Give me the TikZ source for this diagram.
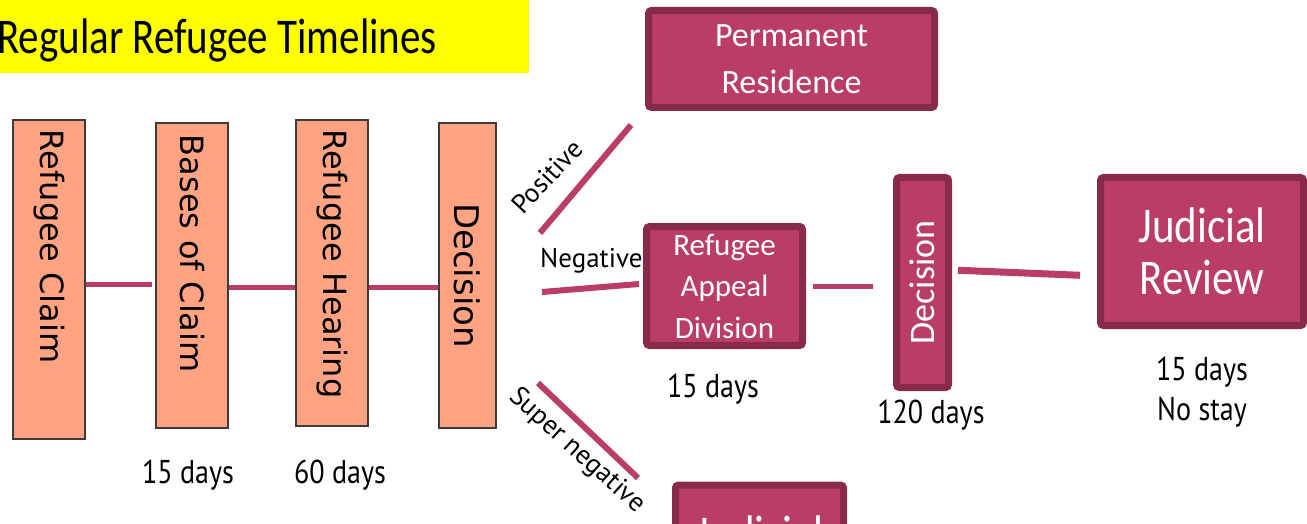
\documentclass[tikz,border=0pt]{standalone}
\usepackage{fontspec}
\setmainfont{Carlito}
\newfontfamily\titlefont[FakeStretch=0.82]{Carlito}
\newfontfamily\boxfont{Carlito}
\newfontfamily\jrfont[FakeStretch=0.86]{Carlito}
\newfontfamily\orfont{DejaVu Sans}
\newfontfamily\labfont[FakeStretch=0.85]{PT Sans}
\newfontfamily\branchfont{PT Sans}
\usetikzlibrary{calc}
\definecolor{mag}{HTML}{BA3C68}
\definecolor{magb}{HTML}{882A4C}
\definecolor{sal}{HTML}{FFA383}
\definecolor{ttl}{HTML}{FFFF00}
\definecolor{orb}{HTML}{3C3C3C}
\begin{document}
\begin{tikzpicture}[x=1pt,y=-1pt,
  orbox/.style={draw=orb, line width=2pt, fill=sal, inner ysep=0pt, rotate=-90,
    font=\orfont\fontsize{32}{36}\selectfont, text=black},
  magbox/.style={draw=magb, fill=mag, line width=7pt, rounded corners=3pt, inner sep=0pt,
    text=white, align=center},
  conn/.style={draw=mag, line width=5pt},
  branchline/.style={draw=mag, line width=6pt},
  lab/.style={font=\labfont\fontsize{33}{40}\selectfont, inner sep=0pt, anchor=base},
  branch/.style={font=\branchfont\fontsize{27}{32}\selectfont, inner sep=0pt, anchor=base west}
]
\clip (0,0) rectangle (1307,524);
\fill[white] (0,0) rectangle (1307,524);

% title
\fill[ttl] (0,0) rectangle (529,73);
\node[anchor=base east, inner sep=0pt, font=\titlefont\fontsize{50}{60}\selectfont] (T) at (437,54) {Regular Refugee Timelines};

% orange boxes (rotated -90: north = right side, south = left side)
\node[orbox, minimum height=72, inner xsep=10pt, text width=299pt, align=left] (RC) at (49,279.5) {Refugee Claim};
\node[orbox, minimum height=72, inner xsep=12pt, text width=281pt, align=left] (BC) at (192,275.5) {Bases of Claim};
\node[orbox, minimum height=72, inner xsep=10pt, text width=286pt, align=left] (RH) at (332,273) {Refugee Hearing};
\node[orbox, minimum height=57, minimum width=305, inner xsep=0pt, font=\orfont\fontsize{34}{38}\selectfont] (OD) at (467.5,275.5) {Decision};

% magenta boxes
\node[magbox, minimum width=286, minimum height=97, font=\boxfont\fontsize{34}{47}\selectfont] (PR) at (791.5,59) {Permanent\\Residence};
\node[magbox, minimum width=156, minimum height=119, font=\boxfont\fontsize{31}{41.5}\selectfont] (RAD) at (724.5,286) {Refugee\\Appeal\\Division};
\node[magbox, rotate=90, minimum width=210, minimum height=52, font=\boxfont\fontsize{36}{40}\selectfont] (D2) at (922.5,282.5) {Decision};
\node[magbox, minimum width=203, minimum height=148, font=\jrfont\fontsize{50}{52}\selectfont] (JR) at (1202,251.5) {Judicial\\Review};
\node[magbox, minimum width=168, minimum height=148, font=\jrfont\fontsize{50}{52}\selectfont] (JB) at (759.5,559) {Judicial\\\phantom{Review}};

% connector levels
\coordinate (yA) at (0,284);
\coordinate (yB) at (0,287);
\coordinate (yC) at (0,286);
\coordinate (yD) at (0,270);
\coordinate (yE) at (0,276);

\draw[conn, shorten >=3pt] (RC.north |- yA) -- (BC.south |- yA);
\draw[conn] (BC.north |- yB) -- (RH.south |- yB);
\draw[conn] (RH.north |- yB) -- (OD.south |- yB);
\draw[conn, shorten <=7pt, shorten >=20pt] (RAD.east |- yC) -- (D2.north |- yC);
\draw[conn, line width=7pt, shorten <=6pt, shorten >=17pt] (D2.south |- yD) -- (JR.west |- yE);

% branches
\coordinate (p1) at (540,233);
\coordinate (p2) at (631,125);
\coordinate (n1) at (542,292);
\coordinate (n2) at (639,284);
\coordinate (s1) at (538,383);
\coordinate (s2) at (638,478);
\draw[branchline] (p1) -- (p2);
\draw[branchline] (n1) -- (n2);
\draw[branchline] (s1) -- (s2);
\node[branch, rotate=47] (tp) at (523,216) {Positive};
\node[branch] (tn) at (540,267) {Negative};
\node[branch, rotate=-42] (ts) at (508,398) {Super negative};

% day labels
\node[lab] (d1) at (188,483) {15 days};
\node[lab] (d2) at (340,483) {60 days};
\node[lab] (d3) at (713,397) {15 days};
\node[lab] (d4) at (931,423) {120 days};
\node[lab] (d5) at (1202,380) {15 days};
\node[lab] (d6) at (1202,420) {No stay};
\end{tikzpicture}
\end{document}
